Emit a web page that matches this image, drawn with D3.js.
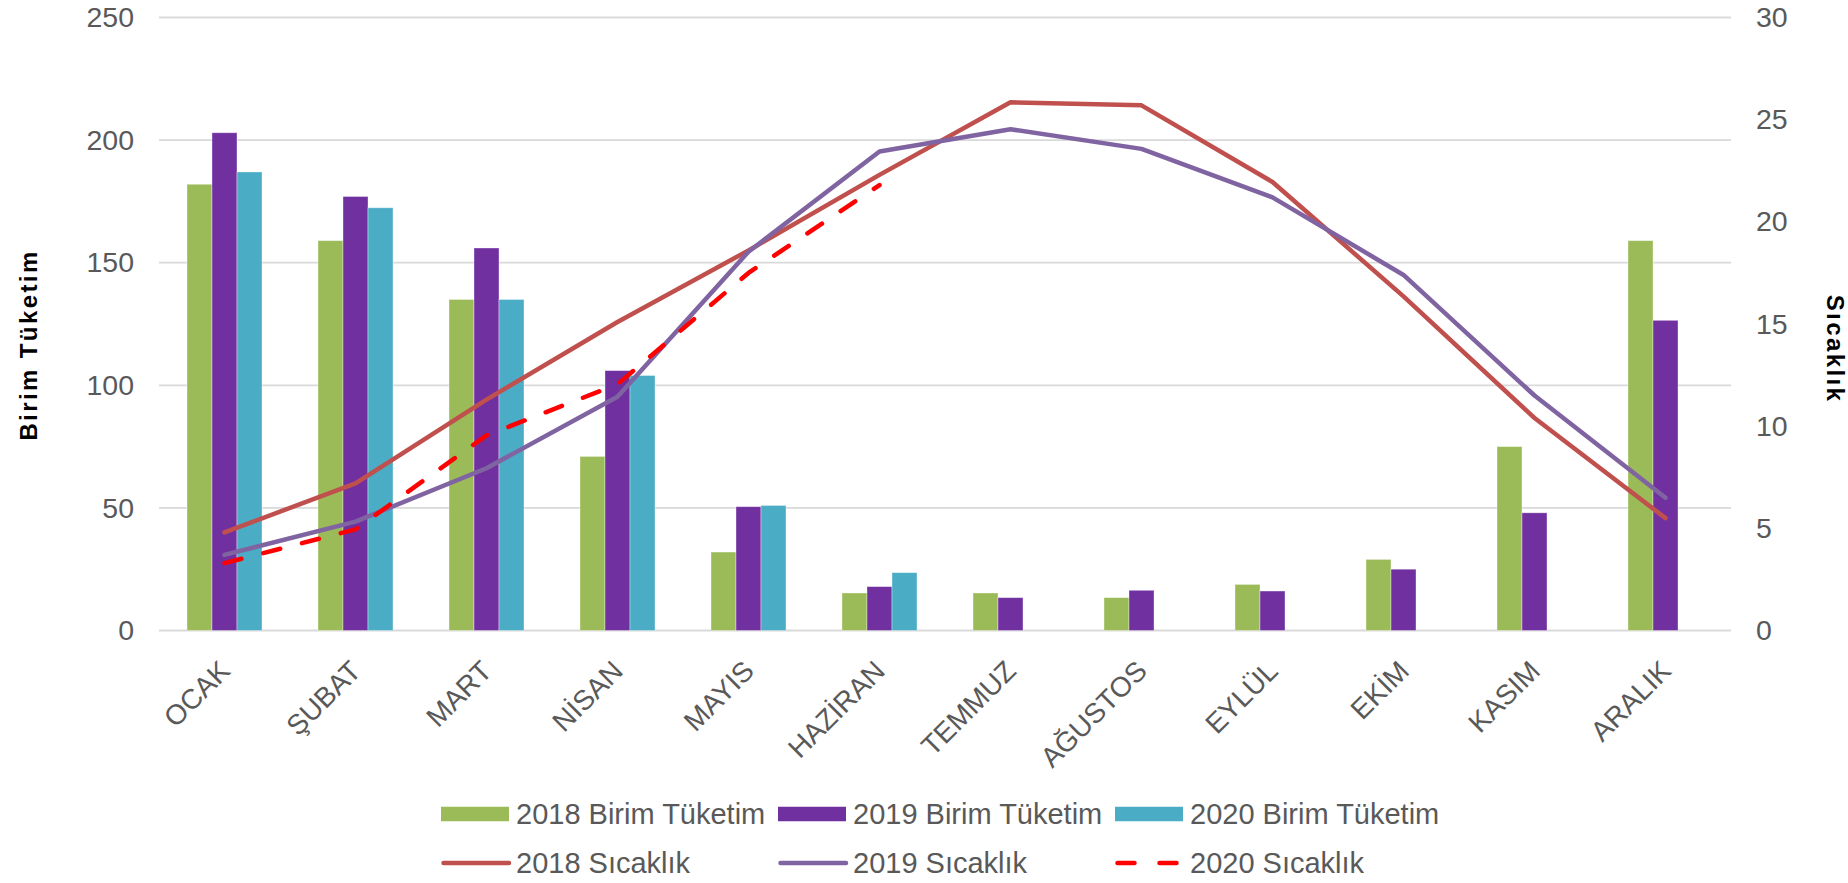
<!DOCTYPE html>
<html>
<head>
<meta charset="utf-8">
<script src="https://cdn.jsdelivr.net/npm/d3@7"></script>
<style>
    body { margin: 0; background: #fff; }
    text { font-family: "Liberation Sans", Arial, sans-serif; }
</style>
</head>
<body>
<div id="chart"></div>
<script>
// Aylık birim tüketim (bar) ve sıcaklık (line) - iki eksenli grafik

const months = ['OCAK', 'ŞUBAT', 'MART', 'NİSAN', 'MAYIS', 'HAZİRAN', 'TEMMUZ', 'AĞUSTOS', 'EYLÜL', 'EKİM', 'KASIM', 'ARALIK'];

const cons2018 = [182, 159, 135, 71, 32, 15.3, 15.3, 13.4, 18.8, 29, 75, 159];
const cons2019 = [203, 177, 156, 106, 50.5, 17.9, 13.4, 16.4, 16.1, 25, 48, 126.5];
const cons2020 = [187, 172.4, 135, 104, 51, 23.6, null, null, null, null, null, null];

const temp2018 = [4.8, 7.2, 11.3, 15.1, 18.6, 22.3, 25.85, 25.7, 21.95, 16.35, 10.4, 5.5];
const temp2019 = [3.7, 5.33, 7.94, 11.44, 18.54, 23.44, 24.53, 23.57, 21.2, 17.4, 11.5, 6.5];
const temp2020 = [3.3, 4.95, 9.55, 12.05, 17.5, 21.8];

const leftTicks = [0, 50, 100, 150, 200, 250];
const rightTicks = [0, 5, 10, 15, 20, 25, 30];

const barSeries = ['2018 Birim Tüketim', '2019 Birim Tüketim', '2020 Birim Tüketim'];
const lineSeries = ['2018 Sıcaklık', '2019 Sıcaklık', '2020 Sıcaklık'];

class ComboChart {

    constructor(parentElement) {
        this.parentElement = parentElement;
        this.initVis();
    }

    initVis() {
        let vis = this;

        vis.width = 1848;
        vis.height = 883;
        vis.plot = {left: 159, right: 1731, top: 17.5, bottom: 630.5};

        vis.svg = d3.select('#' + vis.parentElement)
            .append('svg')
            .attr('width', vis.width)
            .attr('height', vis.height);

        vis.barColors = ['#9bbb59', '#7030a0', '#4bacc6'];
        vis.lineColors = ['#c0504d', '#8064a2', '#ff0000'];

        // scales
        vis.x = d3.scaleBand()
            .domain(months)
            .range([vis.plot.left, vis.plot.right])
            .paddingInner(0.4275)
            .paddingOuter(0.21375);

        vis.xSub = d3.scaleBand()
            .domain(barSeries)
            .range([0, vis.x.bandwidth()]);

        vis.yLeft = d3.scaleLinear().domain([0, 250]).range([vis.plot.bottom, vis.plot.top]);
        vis.yRight = d3.scaleLinear().domain([0, 30]).range([vis.plot.bottom, vis.plot.top]);

        vis.wrangleData();
    }

    wrangleData() {
        let vis = this;

        let consAll = [cons2018, cons2019, cons2020];
        vis.barData = [];
        months.forEach((m, i) => {
            consAll.forEach((arr, s) => {
                if (arr[i] != null) {
                    vis.barData.push({month: m, series: barSeries[s], s: s, value: arr[i]});
                }
            });
        });

        vis.lineData = [temp2018, temp2019, temp2020].map((arr, s) => ({
            series: lineSeries[s],
            s: s,
            values: arr.map((v, i) => ({month: months[i], value: v}))
        }));

        vis.updateVis();
    }

    updateVis() {
        let vis = this;

        // gridlines
        vis.svg.append('g')
            .selectAll('line')
            .data(leftTicks)
            .join('line')
            .attr('x1', vis.plot.left)
            .attr('x2', vis.plot.right)
            .attr('y1', d => vis.yLeft(d))
            .attr('y2', d => vis.yLeft(d))
            .attr('stroke', '#d9d9d9')
            .attr('stroke-width', 1.8);

        // left axis
        let leftAxis = vis.svg.append('g')
            .attr('transform', `translate(${vis.plot.left - 25}, 0)`)
            .call(d3.axisLeft(vis.yLeft).tickValues(leftTicks).tickSize(0).tickPadding(0));
        leftAxis.select('.domain').remove();
        leftAxis.selectAll('text')
            .attr('font-size', 28.5)
            .attr('fill', '#595959')
            .attr('font-family', '"Liberation Sans", Arial, sans-serif');

        // right axis
        let rightAxis = vis.svg.append('g')
            .attr('transform', `translate(${vis.plot.right + 25}, 0)`)
            .call(d3.axisRight(vis.yRight).tickValues(rightTicks).tickSize(0).tickPadding(0));
        rightAxis.select('.domain').remove();
        rightAxis.selectAll('text')
            .attr('font-size', 28.5)
            .attr('fill', '#595959')
            .attr('font-family', '"Liberation Sans", Arial, sans-serif');

        // month labels, rotated
        vis.svg.append('g')
            .selectAll('text')
            .data(months)
            .join('text')
            .attr('transform', d => `translate(${vis.x(d) + vis.x.bandwidth() / 2}, 665.5) rotate(-45)`)
            .attr('text-anchor', 'end')
            .attr('dy', '0.36em')
            .attr('font-size', 28)
            .attr('fill', '#595959')
            .text(d => d);

        // axis titles
        vis.svg.append('text')
            .attr('transform', 'translate(36.5, 345) rotate(-90)')
            .attr('text-anchor', 'middle')
            .attr('font-family', '"Open Sans", sans-serif')
            .attr('font-weight', 600)
            .attr('font-size', 24)
            .attr('letter-spacing', 2.4)
            .attr('fill', '#000')
            .text('Birim Tüketim');

        vis.svg.append('text')
            .attr('transform', 'translate(1826.5, 349) rotate(90)')
            .attr('text-anchor', 'middle')
            .attr('font-family', '"Open Sans", sans-serif')
            .attr('font-weight', 600)
            .attr('font-size', 24)
            .attr('letter-spacing', 2.4)
            .attr('fill', '#000')
            .text('Sıcaklık');

        // bars
        vis.svg.append('g')
            .selectAll('rect')
            .data(vis.barData)
            .join('rect')
            .attr('x', d => vis.x(d.month) + vis.xSub(d.series))
            .attr('y', d => vis.yLeft(d.value))
            .attr('width', vis.xSub.bandwidth())
            .attr('height', d => vis.yLeft(0) - vis.yLeft(d.value))
            .attr('fill', d => vis.barColors[d.s])
            .attr('stroke', '#ffffff')
            .attr('stroke-opacity', 0.45)
            .attr('stroke-width', 0.8);

        // temperature lines
        let line = d3.line()
            .x(d => vis.x(d.month) + vis.x.bandwidth() / 2)
            .y(d => vis.yRight(d.value));

        vis.svg.append('g')
            .selectAll('path')
            .data(vis.lineData)
            .join('path')
            .attr('d', d => line(d.values))
            .attr('fill', 'none')
            .attr('stroke', d => vis.lineColors[d.s])
            .attr('stroke-width', 4.5)
            .attr('stroke-linejoin', 'round')
            .attr('stroke-linecap', 'round')
            .attr('stroke-dasharray', d => d.s == 2 ? '17.5,22.5' : null);

        // legend
        let legX = [441, 778, 1115];

        let leg1 = vis.svg.append('g')
            .selectAll('g')
            .data(barSeries)
            .join('g')
            .attr('transform', (d, i) => `translate(${legX[i]}, 814)`);
        leg1.append('rect')
            .attr('x', 0)
            .attr('y', -7.25)
            .attr('width', 68)
            .attr('height', 14.5)
            .attr('fill', (d, i) => vis.barColors[i]);
        leg1.append('text')
            .attr('x', 75)
            .attr('dy', '0.36em')
            .attr('font-size', 29)
            .attr('fill', '#595959')
            .text(d => d);

        let leg2 = vis.svg.append('g')
            .selectAll('g')
            .data(lineSeries)
            .join('g')
            .attr('transform', (d, i) => `translate(${legX[i]}, 863)`);
        leg2.append('line')
            .attr('x1', 2.5)
            .attr('x2', (d, i) => i == 2 ? 66 : 68)
            .attr('stroke', (d, i) => vis.lineColors[i])
            .attr('stroke-width', 4.5)
            .attr('stroke-linecap', 'round')
            .attr('stroke-dasharray', (d, i) => i == 2 ? '17,25' : null);
        leg2.append('text')
            .attr('x', 75)
            .attr('dy', '0.36em')
            .attr('font-size', 29)
            .attr('fill', '#595959')
            .text(d => d);
    }
}

new ComboChart('chart');
</script>
</body>
</html>
